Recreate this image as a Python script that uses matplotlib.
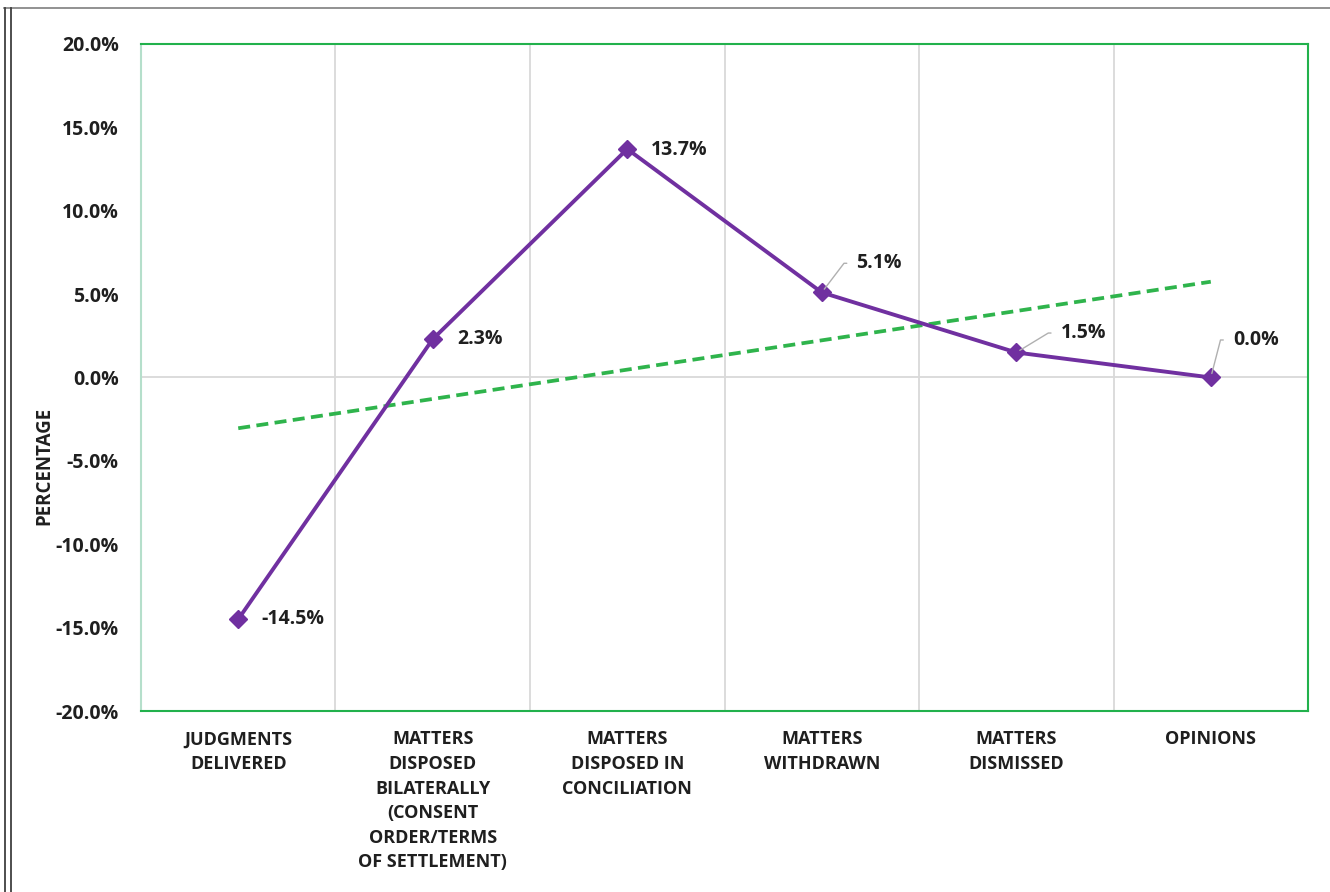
import matplotlib
matplotlib.use('Agg')
import matplotlib.pyplot as plt
import matplotlib.ticker as mtick
from matplotlib.lines import Line2D
import numpy as np

categories = ['JUDGMENTS\nDELIVERED',
              'MATTERS\nDISPOSED\nBILATERALLY\n(CONSENT\nORDER/TERMS\nOF SETTLEMENT)',
              'MATTERS\nDISPOSED IN\nCONCILIATION',
              'MATTERS\nWITHDRAWN',
              'MATTERS\nDISMISSED',
              'OPINIONS']
change = [-14.5, 2.3, 13.7, 5.1, 1.5, 0.0]      # percentage change per category
y_ticks = [-20, -15, -10, -5, 0, 5, 10, 15, 20]

plt.rcParams['font.family'] = ['Open Sans', 'DejaVu Sans']
text_color = '#1F1F1F'
purple = '#7030A0'
green = '#2FB44C'

fig = plt.figure(figsize=(13.3, 8.92), dpi=100)
ax = fig.add_axes([0.106, 0.2029, 0.8775, 0.7478])

x = np.arange(len(change))

# gridlines between categories and the zero line
for b in np.arange(0.5, len(change) - 1, 1.0):
    ax.axvline(b, color='#D9D9D9', lw=1.3, zorder=0)
ax.axhline(0, color='#D9D9D9', lw=1.3, zorder=0)

# linear trend line over the series
coef = np.polyfit(x + 1, change, 1)
trend = np.polyval(coef, x + 1)
ax.plot([x[0], x[-1]], [trend[0], trend[-1]], color=green, lw=2.7,
        dashes=(3.2, 1.7), zorder=2)

ax.plot(x, change, color=purple, lw=2.8, marker='D', markersize=9,
        markerfacecolor=purple, markeredgecolor=purple, zorder=3)

# data labels: (dx, dy) offsets in points, leader line for some
offsets = [(17, 0, False), (18, 0, False), (17, -1, False),
           (25, 21, True), (32, 14, True), (16, 27, True)]
for xi, v, (dx, dy, lead) in zip(x, change, offsets):
    label = '%.1f%%' % v
    if lead:
        ang = np.degrees(np.arctan2(dy, max(dx - 9, 0.5)))
        ax.annotate(label, xy=(xi, v), xytext=(dx, dy), textcoords='offset points',
                    ha='left', va='center', fontsize=14, fontweight='bold',
                    color=text_color, zorder=4,
                    arrowprops=dict(arrowstyle='-', color='#B0B0B0', lw=1.0,
                                    connectionstyle='angle,angleA=0,angleB=%.1f,rad=0' % ang,
                                    relpos=(0, 0.5), shrinkA=5, shrinkB=3))
    else:
        ax.annotate(label, xy=(xi, v), xytext=(dx, dy), textcoords='offset points',
                    ha='left', va='center', fontsize=14, fontweight='bold',
                    color=text_color, zorder=4)

ax.set_xlim(-0.5, len(change) - 0.5)
ax.set_ylim(-20, 20)
ax.set_yticks(y_ticks)
ax.yaxis.set_major_formatter(mtick.FormatStrFormatter('%.1f%%'))
ax.set_xticks(x)
ax.set_xticklabels(categories, fontsize=13, fontweight='bold', color=text_color,
                   linespacing=1.47)
ax.tick_params(axis='x', length=0, pad=14)
ax.tick_params(axis='y', length=0, pad=16, labelsize=14, labelcolor=text_color)
for t in ax.get_yticklabels():
    t.set_fontweight('bold')
ax.set_ylabel('PERCENTAGE', fontsize=13.5, fontweight='bold', color=text_color)
ax.yaxis.set_label_coords(-0.074, 0.367)

for side in ['top', 'right', 'bottom']:
    ax.spines[side].set_color('#22B14C')
    ax.spines[side].set_linewidth(1.5)
ax.spines['left'].set_color('#B5DFCB')
ax.spines['left'].set_linewidth(1.5)

# outer frame of the sheet
fig.add_artist(Line2D([0.003, 1.0], [0.991, 0.991], color='#7F7F7F', lw=1.2))
fig.add_artist(Line2D([0.0035, 0.0035], [0.0, 0.991], color='#404040', lw=1.3))
fig.add_artist(Line2D([0.0085, 0.0085], [0.0, 0.991], color='#404040', lw=1.3))

fig.savefig('out.png', dpi=100)
